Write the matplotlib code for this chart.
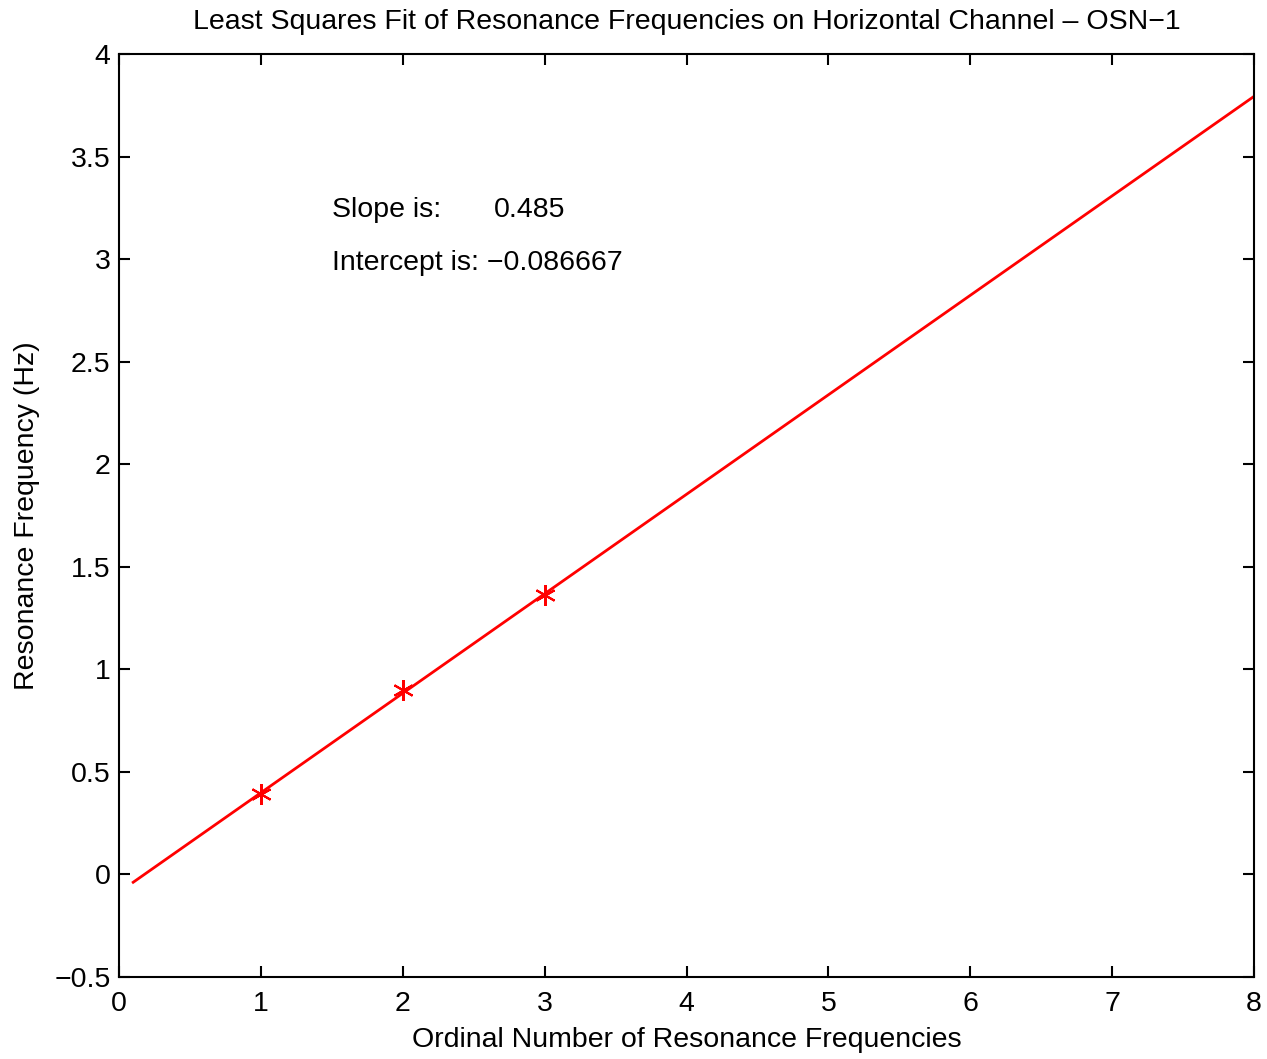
import numpy as np
import matplotlib
matplotlib.use("Agg")
import matplotlib.pyplot as plt

# measured resonance frequencies (Hz)
ordinal = [1, 2, 3]
freq = [0.39, 0.90, 1.36]

# least squares fit results
SLOPE = 0.485
INTERCEPT = -0.086667
fit_x = [0.1, 8.0]

x_ticks = [0, 1, 2, 3, 4, 5, 6, 7, 8]
y_ticks = [-0.5, 0, 0.5, 1, 1.5, 2, 2.5, 3, 3.5, 4]
y_labels = ["\u22120.5", "0", "0.5", "1", "1.5", "2", "2.5", "3", "3.5", "4"]

FS = 20.5
plt.rcParams["font.family"] = ["Liberation Sans", "DejaVu Sans"]

fig = plt.figure(figsize=(12.67, 10.59), dpi=100)
ax = fig.add_axes([119 / 1267, 1 - 977 / 1059, (1254 - 119) / 1267, (977 - 54) / 1059])

fx = np.array(fit_x)
ax.plot(fx, SLOPE * fx + INTERCEPT, color="red", lw=2)
ax.plot(ordinal, freq, ls="none", marker=(6, 2, 0), color="red", ms=15,
        markeredgewidth=1.5)

ax.text(1.5, 3.24, "Slope is:", fontsize=FS, va="center")
ax.text(2.64, 3.24, f"{SLOPE}", fontsize=FS, va="center")
ax.text(1.5, 2.98, f"Intercept is: \u2212{abs(INTERCEPT):g}", fontsize=FS, va="center")

ax.set_xlim(0, 8)
ax.set_ylim(-0.5, 4)
ax.set_xticks(x_ticks)
ax.set_xticklabels([str(t) for t in x_ticks])
ax.set_yticks(y_ticks)
ax.set_yticklabels(y_labels)
ax.tick_params(direction="in", top=True, right=True, length=8, width=1.5,
               labelsize=FS)
ax.tick_params(axis="x", pad=10)
ax.tick_params(axis="y", pad=6)
for s in ax.spines.values():
    s.set_linewidth(1.5)

ax.set_xlabel("Ordinal Number of Resonance Frequencies", fontsize=FS, labelpad=7)
ax.set_ylabel("Resonance Frequency (Hz)", fontsize=FS, labelpad=10)
ax.set_title("Least Squares Fit of Resonance Frequencies on Horizontal Channel \u2013 OSN\u22121",
             fontsize=FS, pad=18)

fig.savefig("out.png", dpi=100)
